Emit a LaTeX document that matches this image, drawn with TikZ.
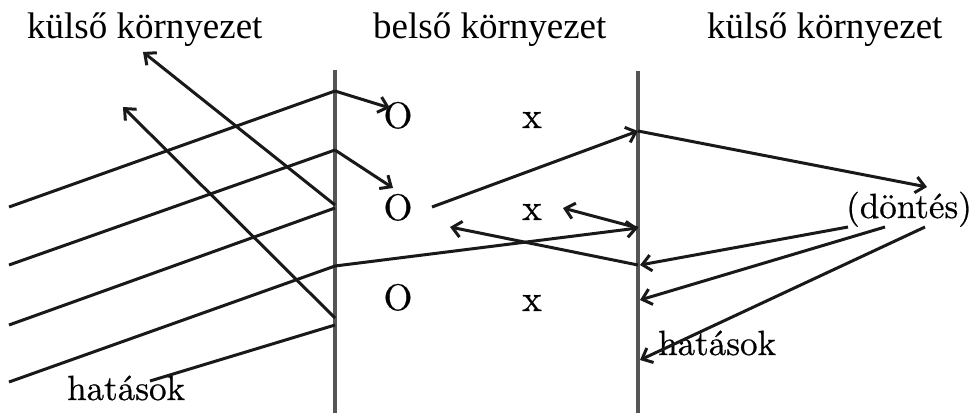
\documentclass[tikz,border=0pt]{standalone}
\usepackage{fontspec}
\newfontfamily\tnr{Liberation Serif}
\newfontfamily\lmr{lmroman10-regular.otf}[FakeBold=0.6]
\usetikzlibrary{arrows.meta}
\definecolor{wallgray}{RGB}{85,85,85}
\definecolor{ink}{RGB}{25,25,25}
\tikzset{
  wall/.style={draw=wallgray,line width=4.2pt},
  ray/.style={draw=ink,line width=3pt},
  arr/.style={ray,-{Straight Barb[length=9pt,width=16pt]}},
  head/.style={inner sep=0pt,anchor=base west,font=\tnr\fontsize{37}{40}\selectfont},
  lab/.style={inner sep=0pt,anchor=base west,font=\lmr\fontsize{35}{38}\selectfont},
  sym/.style={inner sep=0pt,anchor=base,font=\lmr\fontsize{37}{40}\selectfont}
}
\begin{document}
\begin{tikzpicture}[x=1pt,y=-1pt]
\useasboundingbox (0,0) rectangle (974,413);
% walls
\coordinate (LWt) at (335,70);  \coordinate (LWb) at (335,413);
\coordinate (RWt) at (638,71);  \coordinate (RWb) at (638,413);
\draw[wall] (LWt) -- (LWb);
\draw[wall] (RWt) -- (RWb);
% labels
\node[head] (k1) at (27,38) {külső környezet};
\node[head] (b1) at (373,38) {belső környezet};
\node[head] (k2) at (707,38) {külső környezet};
\node[lab] (h1) at (67,400) {hatások};
\node[lab] (h2) at (658,355) {hatások};
\node[lab] (d) at (846,218) {(döntés)};
\node[sym] (o1) at (398,128) {O};
\node[sym] (o2) at (398,220) {O};
\node[sym] (o3) at (398,310) {O};
\node[sym] (x1) at (532,128) {x};
\node[sym] (x2) at (532,220) {x};
\node[sym] (x3) at (532,311) {x};
% left incoming lines
\coordinate (s1) at (9,207);   \coordinate (w1) at (335,91);
\coordinate (s2) at (9,265);   \coordinate (w2) at (335,150);
\coordinate (s3) at (9,325);   \coordinate (w3) at (335,208);
\coordinate (s4) at (9,382);   \coordinate (w4) at (335,266);
\coordinate (s5) at (150,381); \coordinate (w5) at (335,325);
\draw[ray] (s1) -- (w1);
\draw[ray] (s2) -- (w2);
\draw[ray] (s3) -- (w3);
\draw[ray] (s4) -- (w4);
\draw[ray] (s5) -- (w5);
% reflections
\coordinate (wr1) at (335,205); \coordinate (t1) at (143,52);
\coordinate (wr2) at (335,318); \coordinate (t2) at (123,107);
\draw[arr] (wr1) -- (t1);
\draw[arr] (wr2) -- (t2);
% into inner
\coordinate (a1) at (390,108);
\coordinate (a2) at (393,188);
\draw[arr] (w1) -- (a1);
\draw[arr] (w2) -- (a2);
% inner arrows
\coordinate (bo) at (432,207);
\coordinate (r1) at (638,131);
\coordinate (r2) at (638,228);
\coordinate (r3) at (638,265);
\coordinate (bx) at (563,208);
\coordinate (bl) at (450,227);
\draw[arr] (bo) -- (r1);
\draw[arr] (w4) -- (r2);
\draw[arr] (r2) -- (bx);
\draw[arr] (r3) -- (bl);
% right side
\coordinate (dt) at (927,187);
\coordinate (d1) at (848,227);
\coordinate (d2) at (885,227);
\coordinate (d3) at (925,227);
\coordinate (e1) at (640,265);
\coordinate (e2) at (640,300);
\coordinate (e3) at (640,360);
\draw[arr] (r1) -- (dt);
\draw[arr] (d1) -- (e1);
\draw[arr] (d2) -- (e2);
\draw[arr] (d3) -- (e3);
\end{tikzpicture}
\end{document}
